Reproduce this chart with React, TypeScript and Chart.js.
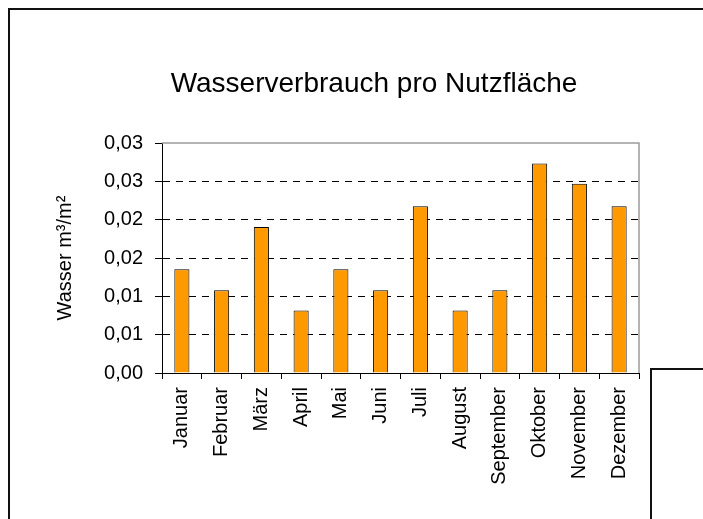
import React, { useEffect, useRef } from "react";
import { Chart, registerables } from "chart.js";

Chart.register(...registerables);

const chartTitle = "Wasserverbrauch pro Nutzfläche";
const yAxisTitle = "Wasser m³/m²";
const months = [
  "Januar", "Februar", "März", "April", "Mai", "Juni",
  "Juli", "August", "September", "Oktober", "November", "Dezember",
];
const waterUse = [
  0.01352, 0.01078, 0.01905, 0.00816, 0.01352, 0.01078,
  0.02176, 0.00816, 0.01078, 0.02733, 0.02468, 0.02176,
];
const yTickLabels = ["0,00", "0,01", "0,01", "0,02", "0,02", "0,03", "0,03"];

const FONT = "'Liberation Sans', Arial, sans-serif";

const titlePlugin = {
  id: "excelTitle",
  afterDraw(chart: any) {
    const ctx = chart.ctx;
    ctx.save();
    ctx.font = `28px ${FONT}`;
    ctx.fillStyle = "#000";
    ctx.textAlign = "center";
    ctx.textBaseline = "alphabetic";
    ctx.fillText(chartTitle, 374, 92);
    ctx.restore();
  },
};

const framePlugin = {
  id: "plotFrame",
  beforeDatasetsDraw(chart: any) {
    const { ctx, chartArea } = chart;
    ctx.save();
    ctx.strokeStyle = "#9a9a9a";
    ctx.lineWidth = 1.5;
    ctx.beginPath();
    ctx.moveTo(chartArea.left, chartArea.top);
    ctx.lineTo(chartArea.right, chartArea.top);
    ctx.lineTo(chartArea.right, chartArea.bottom);
    ctx.stroke();
    ctx.restore();
  },
};

export default function App() {
  const ref = useRef<HTMLCanvasElement>(null);

  useEffect(() => {
    if (!ref.current) return;
    const chart = new Chart(ref.current, {
      type: "bar",
      data: {
        labels: months,
        datasets: [
          {
            data: waterUse,
            backgroundColor: "#FF9900",
            borderColor: "#000",
            borderWidth: 1,
            categoryPercentage: 1,
            barPercentage: 0.38,
          },
        ],
      },
      options: {
        animation: false,
        responsive: false,
        devicePixelRatio: 1,
        layout: { padding: { top: 143, right: 64, left: 0, bottom: 0 } },
        plugins: {
          legend: { display: false },
          tooltip: { enabled: false },
          title: { display: false },
        },
        scales: {
          x: {
            afterFit: (s: any) => {
              s.height = 146;
            },
            grid: {
              display: true,
              drawOnChartArea: false,
              drawTicks: true,
              tickLength: 6,
              color: "#000",
              tickColor: "#000",
              offset: true,
            },
            border: { display: true, color: "#000", width: 1 },
            ticks: {
              autoSkip: false,
              minRotation: 90,
              maxRotation: 90,
              padding: 8,
              color: "#000",
              font: { family: FONT, size: 20 },
            },
          },
          y: {
            min: 0,
            max: 0.03,
            afterFit: (s: any) => {
              s.width = 162;
            },
            grid: {
              color: (c: any) =>
                c.index === 0 || c.index === yTickLabels.length - 1 ? "rgba(0,0,0,0)" : "#000",
              lineWidth: 1,
              drawTicks: true,
              tickLength: 7,
              tickColor: "#000",
            },
            border: { display: true, color: "#000", width: 1, dash: [7, 6] },
            ticks: {
              stepSize: 0.005,
              padding: 12,
              color: "#000",
              font: { family: FONT, size: 20 },
              callback: (_v: any, i: number) => yTickLabels[i] ?? "",
            },
            title: {
              display: true,
              text: yAxisTitle,
              color: "#000",
              font: { family: FONT, size: 20 },
              padding: { top: 53, bottom: 0 },
            },
          },
        },
      },
      plugins: [titlePlugin, framePlugin],
    });
    return () => chart.destroy();
  }, []);

  return (
    <div
      style={{
        position: "absolute",
        left: 0,
        top: 0,
        width: 703,
        height: 519,
        overflow: "hidden",
        background: "#fff",
      }}
    >
      <canvas
        ref={ref}
        width={703}
        height={519}
        style={{ position: "absolute", left: 0, top: 0, width: 703, height: 519 }}
      />
      <div
        style={{
          position: "absolute",
          left: 8,
          top: 8,
          width: 800,
          height: 600,
          borderLeft: "2px solid #111",
          borderTop: "2px solid #111",
        }}
      />
      <div
        style={{
          position: "absolute",
          left: 650,
          top: 368,
          width: 100,
          height: 200,
          borderLeft: "2px solid #111",
          borderTop: "2px solid #111",
        }}
      />
    </div>
  );
}
